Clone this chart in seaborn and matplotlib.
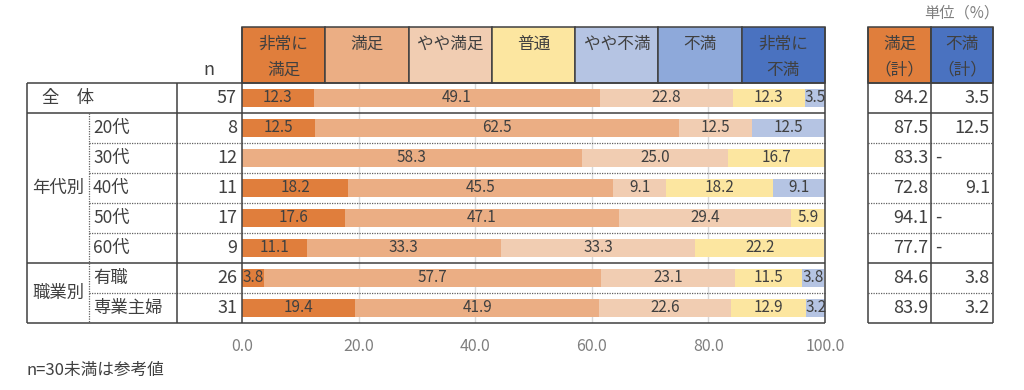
import matplotlib
matplotlib.use("Agg")
import matplotlib.pyplot as plt
import seaborn as sns
import numpy as np
import pandas as pd
from matplotlib.patches import Rectangle

sns.set_theme(style="white")
plt.rcParams['font.family'] = ['Noto Sans CJK JP', 'DejaVu Sans']

# ---------------- data ----------------
row_labels = ["全体", "20代", "30代", "40代", "50代", "60代", "有職", "専業主婦"]
n_values = [57, 8, 12, 11, 17, 9, 26, 31]
categories = ["非常に満足", "満足", "やや満足", "普通", "やや不満", "不満", "非常に不満"]
header_texts = ["非常に\n満足", "満足", "やや満足", "普通", "やや不満", "不満", "非常に\n不満"]
very_satisfied = [12.3, 12.5, 0.0, 18.2, 17.6, 11.1, 3.8, 19.4]
satisfied = [49.1, 62.5, 58.3, 45.5, 47.1, 33.3, 57.7, 41.9]
somewhat_satisfied = [22.8, 12.5, 25.0, 9.1, 29.4, 33.3, 23.1, 22.6]
neutral = [12.3, 0.0, 16.7, 18.2, 5.9, 22.2, 11.5, 12.9]
somewhat_dissatisfied = [3.5, 12.5, 0.0, 9.1, 0.0, 0.0, 3.8, 3.2]
dissatisfied = [0.0, 0.0, 0.0, 0.0, 0.0, 0.0, 0.0, 0.0]
very_dissatisfied = [0.0, 0.0, 0.0, 0.0, 0.0, 0.0, 0.0, 0.0]
sat_total = ["84.2", "87.5", "83.3", "72.8", "94.1", "77.7", "84.6", "83.9"]
dis_total = ["3.5", "12.5", "-", "9.1", "-", "-", "3.8", "3.2"]
x_ticks = [0, 20, 40, 60, 80, 100]

colors = ["#E07E3C", "#EBAE84", "#F1CDB2", "#FCE6A0", "#B5C4E3", "#8EA9DA", "#4A72C0"]
text_c = "#404040"

series = [very_satisfied, satisfied, somewhat_satisfied, neutral,
          somewhat_dissatisfied, dissatisfied, very_dissatisfied]
vals = np.array(series)              # (7, 8)
cum = np.cumsum(vals, axis=0)

# ---------------- figure ----------------
W, H = 1024, 390
fig = plt.figure(figsize=(W / 100, H / 100), dpi=100)

px_l, px_r = 242, 825
py_t, py_b = 83, 323
ax = fig.add_axes([px_l / W, (H - py_b) / H, (px_r - px_l) / W, (py_b - py_t) / H])

# grid behind
for xv in x_ticks[1:-1]:
    ax.axvline(xv, color="#D9D9D9", lw=1.0, zorder=0)

# stacked horizontal bars via overdraw (largest cumulative first)
for k in range(len(categories) - 1, -1, -1):
    df = pd.DataFrame({"label": row_labels, "value": cum[k]})
    sns.barplot(data=df, x="value", y="label", orient="h", color=colors[k],
                width=0.58, saturation=1, ax=ax, zorder=2, linewidth=0)

# value labels
for k in range(len(categories)):
    for i in range(len(row_labels)):
        v = vals[k, i]
        if v > 0:
            c = cum[k, i] - v / 2
            ax.text(c, i, f"{v:.1f}", ha="center", va="center", fontsize=11,
                    color=text_c, zorder=5)

ax.set_xlim(0, 100)
ax.set_ylim(len(row_labels) - 0.5, -0.5)
ax.set_xticks(x_ticks)
ax.set_xticklabels([f"{t:.1f}" for t in x_ticks], color="#7F7F7F", fontsize=11.5)
ax.tick_params(axis="x", length=0, pad=11)
ax.set_yticks([])
ax.set_xlabel("")
ax.set_ylabel("")
for s in ax.spines.values():
    s.set_visible(False)
ax.patch.set_alpha(0)

# ---------------- overlay for table ----------------
ov2 = fig.add_axes([0, 0, 1, 1], zorder=10)
ov2.set_xlim(0, W)
ov2.set_ylim(H, 0)
ov2.axis("off")
ov2.patch.set_alpha(0)

lc = "#404040"
row_h = 30
rows_y = [py_t + i * row_h for i in range(len(row_labels) + 1)]

def hline(y, x0, x1, dotted=False, lw=1.1):
    ov2.plot([x0, x1], [y, y], color=lc if not dotted else "#606060",
             lw=0.9 if dotted else lw, ls=(0, (1, 1)) if dotted else "-",
             solid_capstyle="butt")

def vline(x, y0, y1, dotted=False, lw=1.1):
    ov2.plot([x, x], [y0, y1], color=lc if not dotted else "#606060",
             lw=0.9 if dotted else lw, ls=(0, (1, 1)) if dotted else "-",
             solid_capstyle="butt")

hdr_t = 27
hfs = 12
line_y = [44, 70]

def header_text(xc, t):
    for li, part in enumerate(t.split("\n")):
        ov2.text(xc, line_y[li], part, ha="center", va="center", fontsize=hfs,
                 color=text_c, zorder=3)

# header boxes
bw = (px_r - px_l) / len(categories)
for k, (t, c) in enumerate(zip(header_texts, colors)):
    x0 = px_l + k * bw
    ov2.add_patch(Rectangle((x0, hdr_t), bw, py_t - hdr_t, facecolor=c,
                            edgecolor=lc, lw=1.1, zorder=1))
    header_text(x0 + bw / 2, t)

# right table header
rt = [868, 931, 993]
for j, (t, c) in enumerate(zip(["満足\n（計）", "不満\n（計）"], [colors[0], colors[6]])):
    ov2.add_patch(Rectangle((rt[j], hdr_t), rt[j + 1] - rt[j], py_t - hdr_t,
                            facecolor=c, edgecolor=lc, lw=1.1, zorder=1))
    header_text((rt[j] + rt[j + 1]) / 2, t)

# horizontal lines
solid_rows = [0, 1, 6, 8]
for i, y in enumerate(rows_y):
    if i in solid_rows:
        hline(y, 27, px_r)
        hline(y, rt[0], rt[2])
    else:
        hline(y, 89, px_r, dotted=True)
        hline(y, rt[0], rt[2], dotted=True)

# vertical lines
vline(27, py_t, py_b)
vline(89, rows_y[1], py_b, dotted=True)
vline(177, py_t, py_b)
vline(px_l, hdr_t, py_b)
vline(px_r, hdr_t, py_b)
for x in rt:
    vline(x, hdr_t, py_b)

# left labels
fs = 12.5
nfs = 13
ov2.text(68, (rows_y[0] + rows_y[1]) / 2, "全　体", ha="center", va="center",
         fontsize=fs, color=text_c)
ov2.text(58, (rows_y[1] + rows_y[6]) / 2, "年代別", ha="center", va="center",
         fontsize=fs, color=text_c)
ov2.text(58, (rows_y[6] + rows_y[8]) / 2, "職業別", ha="center", va="center",
         fontsize=fs, color=text_c)
for i in range(1, len(row_labels)):
    ov2.text(93, (rows_y[i] + rows_y[i + 1]) / 2, row_labels[i], ha="left",
             va="center", fontsize=fs, color=text_c)
for i, n in enumerate(n_values):
    ov2.text(237, (rows_y[i] + rows_y[i + 1]) / 2, str(n), ha="right",
             va="center", fontsize=nfs, color=text_c)
ov2.text(209, 70, "n", ha="center", va="center", fontsize=nfs, color=text_c)

# right values
for i in range(len(row_labels)):
    yc = (rows_y[i] + rows_y[i + 1]) / 2
    ov2.text(rt[1] - 3, yc, sat_total[i], ha="right", va="center", fontsize=nfs,
             color=text_c)
    if dis_total[i] == "-":
        ov2.text(rt[1] + 4, yc, "-", ha="left", va="center", fontsize=nfs,
                 color=text_c)
    else:
        ov2.text(rt[2] - 3, yc, dis_total[i], ha="right", va="center",
                 fontsize=nfs, color=text_c)

ov2.text(962, 13, "単位（%）", ha="center", va="center", fontsize=11,
         color="#7F7F7F")
ov2.text(27, 370, "n=30未満は参考値", ha="left", va="center", fontsize=12,
         color=text_c)

fig.savefig("out.png", dpi=100)
